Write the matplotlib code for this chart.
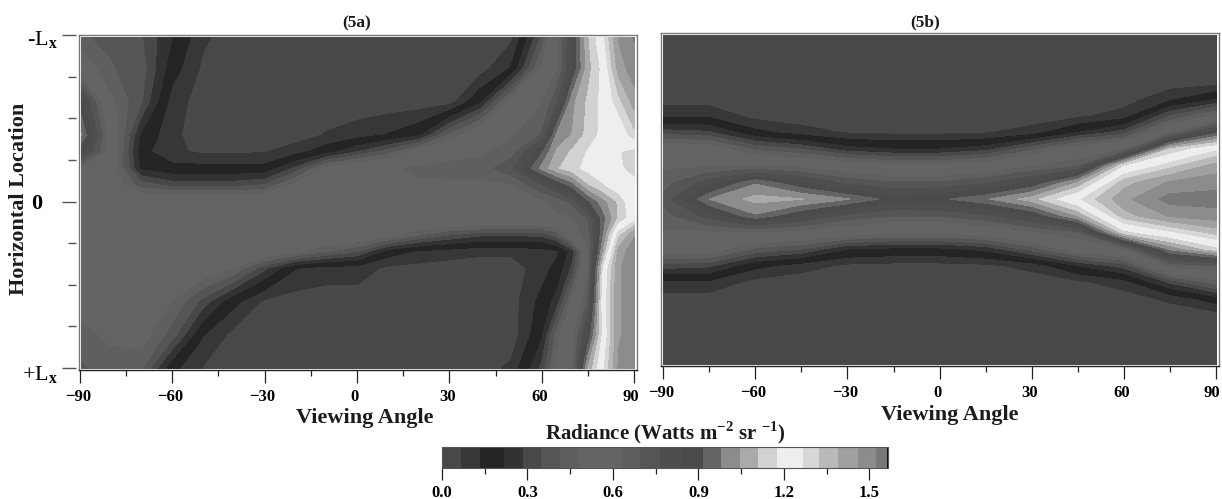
#!/usr/bin/env python3
"""
plot.py — radiance vs viewing angle and horizontal location, panels 5a / 5b
Output: out.png
"""

import numpy as np
import matplotlib
matplotlib.use('Agg')
import matplotlib.pyplot as plt
from matplotlib.colors import BoundaryNorm, ListedColormap
from matplotlib.patches import Rectangle
from matplotlib.transforms import ScaledTranslation

plt.rcParams['font.family'] = ['Liberation Serif', 'DejaVu Serif']
plt.rcParams['font.weight'] = 'bold'
plt.rcParams['mathtext.fontset'] = 'custom'
plt.rcParams['mathtext.rm'] = 'Liberation Serif:bold'

W, H = 1222, 499

# ── Colour scale ────────────────────────────────────────────────────
LEVELS = [0, .065, .135, .218, .285, .347, .415, .482, .559, .63, .694, .765,
          .841, .915, .98, 1.047, 1.109, 1.176, 1.265, 1.324, 1.391, 1.459,
          1.524, 1.565]
GRAYS = [72, 55, 36, 50, 72, 85, 95, 100, 100, 95, 85, 78,
         75, 100, 140, 170, 210, 238, 215, 185, 160, 140, 120]
CBAR_TICKS = [0.0, 0.3, 0.6, 0.9, 1.2, 1.5]
CBAR_MINOR = [0.15, 0.45, 0.75, 1.05, 1.35]

ANGLE_TICKS = [-90, -60, -30, 0, 30, 60, 90]
ANGLE_MINOR = [-75, -45, -15, 15, 45, 75]
LOC_TICKS = [-1, 0, 1]
LOC_LABELS = ['-L$_{\\mathrm{x}}$', '0', '+L$_{\\mathrm{x}}$']
LOC_MINOR = [-.75, -.5, -.25, .25, .5, .75]

# ── Panel 5a ────────────────────────────────────────────────────────
ANGLE_A = [-90, -80, -70, -60, -50, -40, -30, -20, -10, 0, 10, 20, 30, 40, 50,
           60, 65, 70, 75, 80, 85, 90]
LOC_A = [-1, -.8, -.6, -.4, -.3, -.2, -.1, 0, .1, .2, .3, .4, .6, .8, 1]
RAD_A = [
    [.42, .40, .35, .22, .08, .03, .02, .02, .02, .02, .02, .02, .02, .02, .04, .35, .60, .85, 1.10, 1.25, 1.47, 1.53],
    [.55, .42, .38, .17, .05, .02, .02, .02, .02, .02, .02, .02, .02, .03, .14, .50, .62, .85, 1.08, 1.20, 1.42, 1.50],
    [.88, .50, .35, .10, .03, .02, .02, .02, .02, .02, .02, .02, .03, .20, .52, .62, .75, 1.03, 1.12, 1.20, 1.30, 1.42],
    [1.0, .58, .20, .08, .03, .02, .02, .03, .07, .10, .14, .20, .42, .58, .62, .70, 1.00, 1.05, 1.13, 1.20, 1.20, 1.30],
    [.88, .58, .16, .08, .05, .05, .06, .10, .18, .28, .38, .52, .60, .62, .65, .90, 1.06, 1.12, 1.18, 1.20, 1.18, 1.15],
    [.60, .55, .20, .16, .16, .16, .16, .30, .50, .58, .62, .64, .65, .65, .75, 1.00, 1.10, 1.15, 1.20, 1.22, 1.20, 1.12],
    [.58, .55, .38, .32, .32, .32, .35, .50, .60, .60, .62, .62, .62, .62, .62, .75, .85, .95, 1.10, 1.17, 1.23, 1.22],
    [.55, .55, .58, .58, .58, .58, .60, .62, .63, .63, .60, .62, .62, .62, .62, .62, .65, .72, .90, 1.02, 1.12, 1.25],
    [.55, .55, .55, .56, .58, .60, .62, .63, .63, .62, .62, .62, .62, .62, .62, .62, .62, .62, .70, .95, 1.12, 1.22],
    [.55, .55, .55, .55, .58, .60, .62, .62, .60, .58, .52, .42, .35, .30, .30, .30, .38, .60, .65, .98, 1.30, 1.45],
    [.55, .55, .55, .55, .55, .55, .58, .50, .42, .35, .18, .12, .10, .08, .08, .10, .12, .25, .62, 1.05, 1.42, 1.50],
    [.55, .55, .55, .55, .55, .48, .30, .14, .10, .10, .05, .04, .03, .03, .03, .10, .16, .30, .62, 1.18, 1.45, 1.50],
    [.52, .52, .52, .48, .32, .16, .05, .03, .03, .03, .03, .03, .03, .03, .03, .16, .25, .50, .70, 1.22, 1.45, 1.50],
    [.45, .50, .52, .38, .14, .04, .02, .02, .02, .02, .02, .02, .02, .02, .02, .20, .45, .60, .85, 1.20, 1.45, 1.50],
    [.40, .45, .42, .16, .06, .03, .03, .03, .03, .03, .03, .03, .03, .03, .08, .30, .50, .62, 1.05, 1.25, 1.47, 1.50],
]

# ── Panel 5b ────────────────────────────────────────────────────────
ANGLE_B = [-90, -75, -60, -45, -30, -15, 0, 15, 30, 45, 60, 75, 90]
LOC_B = [-1, -.8, -.7, -.6, -.5, -.4, -.3, -.2, -.1, 0, .1, .2, .3, .4, .5, .6, .7, .8, 1]
RAD_B = [
    [.02, .02, .02, .02, .02, .02, .02, .02, .02, .02, .02, .02, .02],
    [.02, .02, .02, .02, .02, .02, .02, .02, .02, .02, .02, .02, .02],
    [.02, .02, .02, .02, .02, .02, .02, .02, .02, .02, .02, .03, .04],
    [.03, .03, .02, .02, .02, .02, .02, .02, .02, .02, .03, .12, .22],
    [.12, .12, .04, .02, .02, .02, .02, .02, .02, .05, .10, .35, .50],
    [.32, .30, .16, .10, .06, .05, .05, .06, .10, .22, .32, .62, .90],
    [.55, .55, .40, .35, .25, .22, .22, .26, .40, .55, .62, 1.12, 1.25],
    [.62, .62, .62, .60, .55, .50, .50, .55, .62, .68, 1.17, 1.30, 1.42],
    [.66, .80, .97, .85, .74, .70, .70, .75, .85, 1.05, 1.36, 1.47, 1.50],
    [.72, .98, 1.07, 1.05, .985, .88, .90, .97, 1.08, 1.25, 1.44, 1.55, 1.55],
    [.66, .80, .97, .85, .74, .70, .70, .75, .85, 1.05, 1.36, 1.47, 1.50],
    [.62, .62, .62, .60, .55, .50, .50, .55, .62, .68, 1.15, 1.25, 1.35],
    [.55, .55, .40, .35, .22, .20, .20, .24, .38, .55, .62, 1.00, 1.15],
    [.32, .30, .16, .10, .05, .04, .04, .05, .09, .22, .32, .65, .70],
    [.12, .12, .04, .02, .02, .02, .02, .02, .02, .05, .10, .30, .45],
    [.03, .03, .02, .02, .02, .02, .02, .02, .02, .02, .03, .08, .18],
    [.02, .02, .02, .02, .02, .02, .02, .02, .02, .02, .02, .02, .03],
    [.02, .02, .02, .02, .02, .02, .02, .02, .02, .02, .02, .02, .02],
    [.02, .02, .02, .02, .02, .02, .02, .02, .02, .02, .02, .02, .02],
]


def px_axes(fig, left, top, right, bottom, **kw):
    """Axes from pixel edges of the 1222x499 canvas."""
    return fig.add_axes([left / W, 1 - bottom / H, (right - left) / W, (bottom - top) / H], **kw)


def nudge(label, dx, dy=0):
    label.set_transform(label.get_transform() + ScaledTranslation(dx / 100, dy / 100, fig.dpi_scale_trans))


def style_panel(ax, xlim, ylim, tick_len, minor_len, shift_last):
    ax.set_xlim(*xlim)
    ax.set_ylim(*ylim)
    ax.set_xticks(ANGLE_TICKS)
    ax.set_xticks(ANGLE_MINOR, minor=True)
    ax.tick_params(axis='x', which='major', length=tick_len, width=0.9, pad=5, labelsize=12, color='#222222')
    ax.tick_params(axis='x', which='minor', length=minor_len, width=0.9, color='#222222')
    ax.set_yticks([])
    for lab in ax.get_xticklabels():
        nudge(lab, -2)
    nudge(ax.get_xticklabels()[-1], shift_last)
    for sp in ax.spines.values():
        sp.set_color('#777777')
        sp.set_linewidth(1.0)
    ax.spines['bottom'].set_color('#222222')
    # white gap between the frame and the field
    ax.add_patch(Rectangle((0, 0), 1, 1, transform=ax.transAxes, fill=False,
                           ec='white', lw=2.2, zorder=2))


def label(x, y, s, size, **kw):
    return fig.text(x / W, 1 - y / H, s, fontsize=size, ha='center', va='center', color='#1c1c1c', **kw)


fig = plt.figure(figsize=(W / 100, H / 100), dpi=100)
cmap = ListedColormap([(g / 255, g / 255, g / 255) for g in GRAYS])
norm = BoundaryNorm(LEVELS, cmap.N)

# ── (5a) ─────────────────────────────────────────────────────────────
ax_a = px_axes(fig, 79, 35, 637, 370)
cf = ax_a.contourf(ANGLE_A, LOC_A, np.array(RAD_A), levels=LEVELS, cmap=cmap, norm=norm)
style_panel(ax_a, (-90.32, 90.97), (1.012, -1), 9, 4.5, -1)

# location ticks sit a little off the frame, so they get their own strip
ax_loc = px_axes(fig, 76, 35, 77, 370, frameon=False)
ax_loc.set_ylim(1.012, -1)
ax_loc.set_xticks([])
ax_loc.set_yticks(LOC_TICKS, LOC_LABELS, fontsize=16, fontweight='normal')
ax_loc.set_yticks(LOC_MINOR, minor=True)
ax_loc.tick_params(axis='y', which='major', length=10, width=1.0, pad=3, color='#555555')
ax_loc.tick_params(axis='y', which='minor', length=5.5, width=1.0, color='#555555')
ylabels = ax_loc.get_yticklabels()
nudge(ylabels[0], 0, -2)
nudge(ylabels[1], -16)
ylabels[1].set_fontweight('bold')
nudge(ylabels[2], 0, -4)

label(357, 23, '(5a)', 12.5)
label(365, 418, 'Viewing Angle', 16)
label(19, 199, 'Horizontal Location', 16, rotation=90)

# ── (5b) ─────────────────────────────────────────────────────────────
ax_b = px_axes(fig, 661, 33, 1219, 366)
ax_b.contourf(ANGLE_B, LOC_B, np.array(RAD_B), levels=LEVELS, cmap=cmap, norm=norm)
style_panel(ax_b, (-90.65, 90.9), (1.005, -1), 9, 4.5, -2)

label(925, 22, '(5b)', 12.5)
label(950, 415, 'Viewing Angle', 16)

# ── Colour bar ───────────────────────────────────────────────────────
cax = px_axes(fig, 442, 447, 888, 468)
cb = fig.colorbar(cf, cax=cax, orientation='horizontal', spacing='proportional',
                  ticks=CBAR_TICKS, format='%.1f')
cb.ax.minorticks_off()
cax.set_xticks(CBAR_MINOR, minor=True)
cax.tick_params(axis='x', which='major', length=8.6, width=0.9, pad=3.5, labelsize=12, color='#222222')
cax.tick_params(axis='x', which='minor', length=4, width=0.9, color='#222222')
cb.outline.set_edgecolor('#555555')
cb.outline.set_linewidth(0.8)
cax.axvline(1.565, color='black', lw=2)
label(665, 433, 'Radiance (Watts m$^{-2}$ sr $^{-1}$)', 15)

fig.savefig('out.png', dpi=100)
plt.close(fig)
